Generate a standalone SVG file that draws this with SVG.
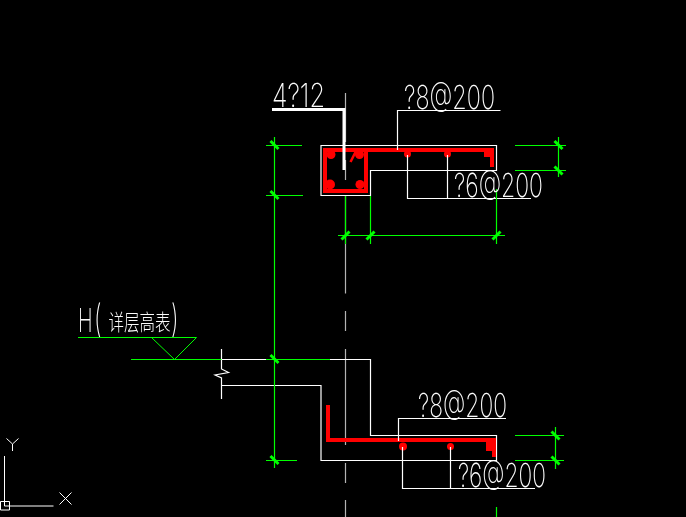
<svg xmlns="http://www.w3.org/2000/svg" width="686" height="517" viewBox="0 0 686 517">
<style>
.w{fill:none;stroke:#fff;stroke-width:1.2}
.g{fill:none;stroke:#0f0;stroke-width:1.2}
.gt{fill:none;stroke:#0f0;stroke-width:3}
.c{fill:none;stroke:#b4b4b4;stroke-width:1.2}
.r{fill:#f00;stroke:none}
.rl{fill:none;stroke:#f00;stroke-width:4}
.t{fill:#fff;font-family:"Inter","Lato","Liberation Sans",sans-serif;font-weight:200;font-size:33px}
.cjk{fill:#fff;font-family:"Noto Sans CJK SC",sans-serif;font-weight:300;font-size:22px}
.par{font-size:38px}
#labels{opacity:.99}
</style>
<rect width="686" height="517" fill="#000"/>
<g id="centerline">
<path class="c" d="M345.5 93V142M345.5 160V180M345.5 196V293.5M345.5 311V331M345.5 349V445M345.5 463V483M345.5 500V517"/>
</g>
<g id="outlines">
<path class="w" d="M321 145.5H496.5V170.5H370.5V195.5H321Z"/>
<path class="w" d="M221.5 359.5H266M330 359.5H370.5V435.5H496.5V460.5H321V385.5H221.5"/>
<path class="w" d="M221.5 349V369L228.5 372.5L215 375L221.5 378V399"/>
</g>
<g id="rebar-top">
<path class="rl" d="M325 150H366V191H325ZM366 150H492V167"/>
<rect class="r" x="484" y="148" width="10" height="9"/>
<circle class="r" cx="331" cy="154.5" r="4.5"/><circle class="r" cx="359.5" cy="154.5" r="4.5"/>
<circle class="r" cx="330" cy="184.5" r="5"/><circle class="r" cx="360" cy="184.5" r="4.5"/>
<circle class="r" cx="407.5" cy="154" r="3.5"/><circle class="r" cx="447.5" cy="154" r="3.5"/>
<path d="M350.5 162L356 151" fill="none" stroke="#f00" stroke-width="2.5"/>
</g>
<g id="rebar-bottom">
<path class="rl" d="M328 405V440H494V457"/>
<rect class="r" x="486" y="442" width="8" height="9"/>
<circle class="r" cx="403" cy="446.5" r="4"/><circle class="r" cx="450.5" cy="446.5" r="3.5"/>
</g>
<g id="connectors">
<path d="M272 109.5H344V170" fill="none" stroke="#fff" stroke-width="3"/>
<path class="w" d="M397.5 150V110.5H500.5"/>
<path class="w" d="M407.5 155V198.5H531M447.5 155V198.5"/>
<path class="w" d="M398.5 441V418.5H506"/>
<path class="w" d="M402.5 447V488.5H535M450.5 447V488.5"/>
</g>
<g id="dimensions">
<path class="g" d="M274.5 137V468M266 145.5H302M266 195.5H303M266 359.5H330M266 460.5H297"/>
<path class="gt" d="M270.5 141L278.5 149M270.5 191L278.5 199M270.5 355L278.5 363M270.5 456L278.5 464"/>
<path class="g" d="M558.5 137V177M515 145.5H566M515 170.5H566"/>
<path class="gt" d="M554.5 141L562.5 149M554.5 166.5L562.5 174.5"/>
<path class="g" d="M555.5 427V469M515 435.5H564M515 460.5H564"/>
<path class="gt" d="M551.5 431.5L559.5 439.5M551.5 456.5L559.5 464.5"/>
<path class="g" d="M338 235.5H505M345.5 196V244M370.5 196V244M496.5 189V244M496.5 507V517"/>
<path class="gt" d="M341.5 239.5L349.5 231.5M366.5 239.5L374.5 231.5M492.5 239.5L500.5 231.5"/>
</g>
<g id="elevation">
<path class="g" d="M78 337.5H196.5M131 359.5H221.5"/>
<path d="M151.5 337.5L174.5 359.5L196.5 337.5" fill="none" stroke="#0f0" stroke-width="1"/>
</g>
<g id="ucs">
<path d="M4.5 456V506H53.5M0.5 501.5H9.5V510H0.5ZM59.5 492.5L71.5 504.5M71.5 492.5L59.5 504.5M6.5 438.5L12.5 444L18.5 438.5M12.5 444V451" fill="none" stroke="#fff" stroke-width="1"/>
</g>
<g id="labels">
<text class="t" x="272" y="106.5" textLength="53" lengthAdjust="spacingAndGlyphs">4?12</text>
<text class="t" x="404" y="109" textLength="91" lengthAdjust="spacingAndGlyphs">?8@200</text>
<text class="t" x="454" y="197" textLength="89" lengthAdjust="spacingAndGlyphs">?6@200</text>
<text class="t" x="418" y="416.5" textLength="89" lengthAdjust="spacingAndGlyphs">?8@200</text>
<text class="t" x="458" y="487" textLength="88" lengthAdjust="spacingAndGlyphs">?6@200</text>
<text class="t" transform="translate(78 332) scale(.6 1)">H</text>
<text class="t par" transform="translate(94 332) scale(.6 1)">(</text>
<text class="cjk" transform="translate(108.5 330) scale(.705 1)">详层高表</text>
<text class="t par" transform="translate(171 332) scale(.6 1)">)</text>
</g>
</svg>
